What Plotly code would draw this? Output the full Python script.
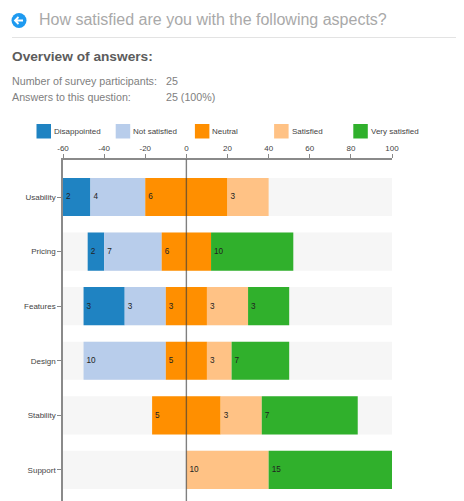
import plotly.graph_objects as go

# the page body has an 8 px margin, so the figure fills what is left of the 464x501 window
PAGE_MARGIN = 8
W, H = 464 - PAGE_MARGIN, 501 - PAGE_MARGIN

categories = ["Usability", "Pricing", "Features", "Design", "Stability", "Support"]
answer_levels = ["Disappointed", "Not satisfied", "Neutral", "Satisfied", "Very satisfied"]
level_colors = ["#1f83c2", "#b8cdeb", "#ff8f00", "#ffc285", "#30b02c"]

# share of answers (percent) for each category
disappointed_pct = [13.33, 8, 20, 0, 0, 0]
not_satisfied_pct = [26.67, 28, 20, 40, 0, 0]
neutral_pct = [40, 24, 20, 20, 33.33, 0]
satisfied_pct = [20, 0, 20, 12, 20, 40]
very_satisfied_pct = [0, 40, 20, 28, 46.67, 60]

# answer counts printed inside the segments
disappointed_n = [2, 2, 3, 0, 0, 0]
not_satisfied_n = [4, 7, 3, 10, 0, 0]
neutral_n = [6, 6, 3, 5, 5, 0]
satisfied_n = [3, 0, 3, 3, 3, 10]
very_satisfied_n = [0, 10, 3, 7, 7, 15]

x_tick_values = [-60, -40, -20, 0, 20, 40, 60, 80, 100]
x_tick_labels = ["-60", "-40", "-20", "0", "20", "40", "60", "80", "100"]

title_text = "How satisfied are you with the following aspects?"
overview_text = "Overview of answers:"
info_labels = ["Number of survey participants:", "Answers to this question:"]
info_values = ["25", "25 (100%)"]

pct = [disappointed_pct, not_satisfied_pct, neutral_pct, satisfied_pct, very_satisfied_pct]
counts = [disappointed_n, not_satisfied_n, neutral_n, satisfied_n, very_satisfied_n]
FONT = "Liberation Sans, Arial, sans-serif"
TEXT_INSET = 2  # annotations sit this many px right of their anchor


def px(x):
    return (x - PAGE_MARGIN) / W


def py(y):
    return 1 - (y - PAGE_MARGIN) / H


# each row is centred on the middle of its neutral segment
bases = [[0.0] * len(categories) for _ in pct]
for c in range(len(categories)):
    left = -neutral_pct[c] / 2 - not_satisfied_pct[c] - disappointed_pct[c]
    for s in range(len(pct)):
        bases[s][c] = left
        left += pct[s][c]

fig = go.Figure()
fig.add_trace(go.Bar(
    y=categories, x=[160] * len(categories), base=[-60] * len(categories),
    orientation="h", width=0.7, marker=dict(color="#f6f6f6", line_width=0),
    hoverinfo="skip", showlegend=False,
))
for s, name in enumerate(answer_levels):
    fig.add_trace(go.Bar(
        name=name, y=categories, x=pct[s], base=bases[s], orientation="h", width=0.7,
        marker=dict(color=level_colors[s], line_width=0),
        text=[str(n) if n else "" for n in counts[s]],
        textposition="inside", insidetextanchor="start", textangle=0,
        constraintext="none",
        insidetextfont=dict(family=FONT, size=8.2, color="#222222"),
        showlegend=False,
    ))

shapes = [
    # header rule
    dict(type="line", xref="paper", yref="paper", x0=px(12), x1=px(464), y0=py(37.5), y1=py(37.5),
         line=dict(color="#e3e3e3", width=1)),
    # back icon
    dict(type="circle", xref="paper", yref="paper", x0=px(11.5), x1=px(26.5), y0=py(13), y1=py(28),
         fillcolor="#1e9af0", line_width=0),
    dict(type="path", xref="paper", yref="paper",
         path=f"M {px(23)},{py(20.5)} L {px(15)},{py(20.5)} M {px(18.5)},{py(17)} L {px(15)},{py(20.5)} L {px(18.5)},{py(24)}",
         line=dict(color="white", width=1.8)),
    # zero line, drawn over the bars
    dict(type="line", xref="x", yref="paper", x0=0, x1=0, y0=0, y1=py(159.5), layer="above",
         line=dict(color="rgba(60,60,60,0.65)", width=1.4)),
]

annotations = [
    dict(text=title_text, x=px(39 - TEXT_INSET), y=py(20), font=dict(size=16, color="#a9a9a9")),
    dict(text=f"<b>{overview_text}</b>", x=px(12 - TEXT_INSET), y=py(57), font=dict(size=13.7, color="#5c5c5c")),
]
for i, row_y in enumerate([81, 97]):
    annotations.append(dict(text=info_labels[i], x=px(12 - TEXT_INSET), y=py(row_y), font=dict(size=10.7, color="#808080")))
    annotations.append(dict(text=info_values[i], x=px(166 - TEXT_INSET), y=py(row_y), font=dict(size=10.7, color="#808080")))

for i, name in enumerate(answer_levels):
    x0 = 36.5 + i * 79.2
    shapes.append(dict(type="rect", xref="paper", yref="paper", x0=px(x0), x1=px(x0 + 14.5),
                       y0=py(124), y1=py(138.5), fillcolor=level_colors[i], line_width=0))
    annotations.append(dict(text=name, x=px(x0 + 17.5 - TEXT_INSET), y=py(131.5), font=dict(size=8, color="#444444")))

for a in annotations:
    a.update(xref="paper", yref="paper", xanchor="left", yanchor="middle", showarrow=False)

fig.update_layout(
    width=W, height=H, autosize=False,
    margin=dict(l=0, r=0, t=0, b=0, pad=0),
    paper_bgcolor="white", plot_bgcolor="white",
    barmode="overlay", bargap=0.3,
    font=dict(family=FONT, size=8, color="#444444"),
    shapes=shapes, annotations=annotations, showlegend=False,
    xaxis=dict(
        automargin=False,
        domain=[px(63), px(392)], side="top", range=[-60, 100],
        tickmode="array", tickvals=x_tick_values, ticktext=x_tick_labels,
        ticks="outside", ticklen=4, tickwidth=1, tickcolor="#888888",
        showline=True, linecolor="#8a8a8a", linewidth=1.5,
        showgrid=False, zeroline=False, tickfont=dict(size=8, color="#444444"),
    ),
    yaxis=dict(
        automargin=False,
        domain=[0, py(159.5)], range=[5.57, -0.687], type="category",
        categoryorder="array", categoryarray=categories,
        ticks="outside", ticklen=4, tickwidth=1, tickcolor="#888888",
        showline=True, linecolor="#8a8a8a", linewidth=1.5,
        showgrid=False, zeroline=False, tickfont=dict(size=8, color="#444444"),
    ),
)

fig.write_html("out.html", config=dict(displayModeBar=False))
